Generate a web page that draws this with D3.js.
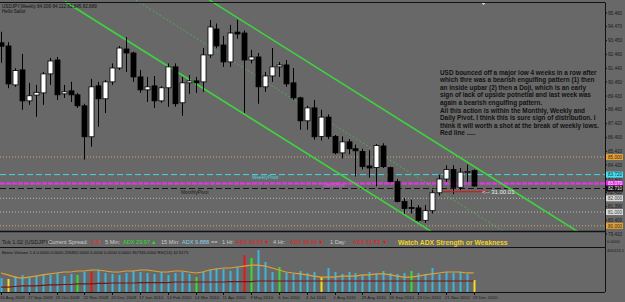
<!DOCTYPE html>
<html>
<head>
<meta charset="utf-8">
<script src="https://cdn.jsdelivr.net/npm/d3@7"></script>
<style>
body { margin: 0; background: #686868; }
svg { display: block; font-family: "Liberation Sans", Arial, sans-serif; }
</style>
</head>
<body>
<div id="chart"></div>
<script>
// weekly USDJPY candles, 30 Aug 2009 .. 19 Dec 2010
var opens  = [93.30,93.07,90.24,91.33,89.08,89.50,89.66,91.04,92.05,89.59,89.81,89.52,88.72,86.47,90.17,89.23,90.46,91.47,92.85,92.56,90.82,89.88,90.17,89.08,90.03,91.55,88.94,90.39,90.53,90.46,92.42,94.30,93.14,91.91,94.08,94.01,92.05,92.27,90.10,90.89,91.55,91.69,90.39,89.30,87.63,88.57,86.50,87.90,86.50,85.30,86.10,85.60,85.40,84.35,84.23,85.80,84.23,83.21,81.77,81.33,81.30,80.40,81.10,82.40,83.40,84.10,82.80,83.90,84.009];
var highs  = [94.10,93.35,91.45,92.49,90.39,90.24,91.18,92.20,92.27,90.24,90.46,89.66,88.87,90.68,90.46,90.60,91.80,93.07,93.72,92.65,91.33,90.82,90.89,90.15,91.80,91.80,90.82,90.96,90.82,92.92,94.95,94.70,93.80,94.60,94.98,94.20,92.78,92.56,91.18,92.92,91.90,92.05,91.47,89.38,88.72,89.15,88.43,88.10,86.60,86.50,86.30,85.90,85.60,85.50,85.94,86.00,84.30,83.40,82.00,81.90,81.50,81.50,82.60,83.70,84.40,84.40,84.20,84.45,84.112];
var lows   = [91.85,90.00,90.10,88.43,88.79,87.92,88.79,90.24,89.15,89.30,89.00,88.57,84.81,85.75,87.20,88.20,90.24,91.33,91.18,90.46,89.66,89.00,88.57,88.94,88.65,88.65,88.00,89.59,89.66,89.74,92.20,92.90,91.55,91.55,93.60,88.21,91.80,88.87,89.74,90.46,90.82,90.10,89.15,86.98,86.98,86.26,86.20,86.30,85.20,84.90,85.20,83.58,84.10,83.50,82.87,84.20,83.16,81.70,80.87,80.90,80.30,80.20,80.90,82.20,83.20,82.30,82.60,83.20,82.845];
var closes = [93.05,90.31,91.28,89.08,89.45,89.70,91.04,91.98,89.52,89.74,89.52,88.72,86.47,90.10,89.23,90.46,91.47,92.92,92.56,90.82,89.88,90.10,89.08,90.03,91.55,88.87,90.39,90.53,90.39,92.42,94.45,93.07,91.91,94.01,93.94,92.05,92.27,90.10,90.89,91.55,91.69,90.31,89.30,87.63,88.57,86.47,87.90,86.50,85.30,86.10,85.60,85.45,84.30,84.20,85.84,84.30,83.21,81.77,81.26,81.28,80.40,81.10,82.40,83.40,84.10,82.80,83.90,83.95,82.889];

// better volume (thousands), its fast and slow averages
var volumes = [127,118,145,155,136,145,164,155,173,145,164,155,182,182,200,173,164,155,173,191,182,173,164,182,155,173,182,164,136,182,200,218,209,191,227,336,309,382,273,182,227,173,164,191,173,182,136,218,182,164,182,173,155,182,164,191,173,164,173,191,173,164,218,164,182,173,182,164,109];
var volFast = [173,155,136,127,136,145,155,164,173,182,182,191,191,200,200,191,182,182,191,191,200,200,191,182,182,191,191,182,173,182,200,209,218,218,227,236,245,245,236,218,200,182,173,164,155,145,136,136,136,145,145,145,155,155,164,164,155,145,136,136,145,155,164,173,182,182,182,173,173];
var volSlow = [45,45,50,55,55,55,60,64,64,68,68,73,73,73,78,78,82,82,82,82,86,86,86,86,86,91,91,91,91,91,91,91,91,95,95,95,95,100,100,100,100,100,100,100,100,100,100,100,100,100,100,100,100,100,100,100,100,100,100,100,100,100,100,100,100,100,100,100,100];
var redBars = [13, 35];
var greenBars = [11, 28, 36, 40, 59];
var yellowBars = [1, 46, 68];

var dateLabels = ["30 Aug 2009","27 Sep 2009","25 Oct 2009","22 Nov 2009","20 Dec 2009","17 Jan 2010","14 Feb 2010","14 Mar 2010","11 Apr 2010","9 May 2010","6 Jun 2010","4 Jul 2010","1 Aug 2010","29 Aug 2010","26 Sep 2010","24 Oct 2010","21 Nov 2010","19 Dec 2010"];
var priceLabels = ["95.460","94.470","93.450","92.460","91.440","90.450","89.430","88.460","87.420","86.400","85.410","84.420","83.400","82.410","81.390","80.400","79.410"];

// levels and channel (bar index, price)
var roundLevels = [85.0, 80.0];
var minorLevels = [82.0, 81.0];
var weeklyPivot = 83.72, dailyPivot = 83.07, monthlyPivot = 82.71;
var weeklyLows = [[63.6, 82.49], [70.1, 82.49]];
var channelLower = [[9.2, 96.3], [62.5, 79.4]];
var channelUpper = [[30.0, 96.4], [83.5, 79.42]];
var channelMid = [[19.4, 96.4], [72.9, 79.4]];

var note = [
  "USD bounced off a major low 4 weeks in a row after",
  "which thre was a bearish engulfing pattern (1) then",
  "an inside upbar (2) then a Doji, which is an early",
  "sign of lack of upside potnetial and last week was",
  "again a bearish engulfing pattern.",
  "All this action is within the Monthly, Weekly and",
  "Daily Pivot. I think this is sure sign of distribution. I",
  "think it will worth a shot at the break of weekly lows.",
  "Red line ....."
];

var width = 625, height = 302;
var panelRight = 605, mainBottom = 232, infoBottom = 248, volBottom = 292;

var x = d3.scaleLinear().domain([0, 68]).range([1, 473.6]);
var y = d3.scaleLinear().domain([79.55, 96.41]).range([mainBottom, 0]);
var v = d3.scaleLinear().domain([0, 400]).range([volBottom, infoBottom]);

var svg = d3.select("#chart").append("svg")
    .attr("width", width)
    .attr("height", height);

svg.append("rect").attr("width", width).attr("height", height).attr("fill", "#686868");

svg.append("clipPath").attr("id", "mainClip")
    .append("rect").attr("x", 0).attr("y", 0).attr("width", panelRight).attr("height", mainBottom);
svg.append("clipPath").attr("id", "volClip")
    .append("rect").attr("x", 0).attr("y", infoBottom).attr("width", panelRight).attr("height", volBottom - infoBottom);

var main = svg.append("g").attr("clip-path", "url(#mainClip)");

// horizontal levels
function hline(p, color, w, dash) {
    main.append("line")
        .attr("x1", 0).attr("x2", panelRight)
        .attr("y1", y(p)).attr("y2", y(p))
        .attr("stroke", color).attr("stroke-width", w)
        .attr("stroke-dasharray", dash);
}
roundLevels.forEach(function(p) { hline(p, "#d5a468", 1, "1,2"); });
minorLevels.forEach(function(p) { hline(p, "#b8b8b8", 1, "1,2"); });
hline(weeklyPivot, "#46d8e6", 1, "6,3");
hline(dailyPivot, "#d83cd8", 2.5, "5,1");
hline(monthlyPivot, "#151515", 1, "6,3");

main.append("text").attr("x", 252).attr("y", y(weeklyPivot) + 4.5)
    .attr("font-size", 4.8).attr("fill", "#4fd6e2").text("WeeklyPivot");
main.append("text").attr("x", 323).attr("y", y(dailyPivot) + 3.5)
    .attr("font-size", 4.8).attr("fill", "#e050e0").text("DailyPivot");
main.append("text").attr("x", 181).attr("y", y(monthlyPivot) + 5)
    .attr("font-size", 4.8).attr("fill", "#1a1a1a").text("MonthlyPivot");

// channel
var line = d3.line().x(function(d) { return x(d[0]); }).y(function(d) { return y(d[1]); });
[channelLower, channelUpper].forEach(function(c) {
    main.append("path").attr("d", line(c)).attr("fill", "none")
        .attr("stroke", "#3ed43e").attr("stroke-width", 1.6);
});
main.append("path").attr("d", line(channelMid)).attr("fill", "none")
    .attr("stroke", "#52b852").attr("stroke-width", 0.8).attr("stroke-dasharray", "2,2");

// candles
var idx = d3.range(opens.length);
var bw = 5;
main.selectAll(".wick").data(idx).enter().append("line")
    .attr("x1", function(i) { return Math.round(x(i)) + 0.5; })
    .attr("x2", function(i) { return Math.round(x(i)) + 0.5; })
    .attr("y1", function(i) { return y(highs[i]); })
    .attr("y2", function(i) { return y(lows[i]); })
    .attr("stroke", "#000").attr("stroke-width", 1);
main.selectAll(".body").data(idx).enter().append("rect")
    .attr("x", function(i) { return Math.round(x(i)) + 0.5 - bw / 2; })
    .attr("y", function(i) { return y(Math.max(opens[i], closes[i])); })
    .attr("width", bw)
    .attr("height", function(i) { return Math.max(1, Math.abs(y(opens[i]) - y(closes[i]))); })
    .attr("fill", function(i) { return closes[i] >= opens[i] ? "#fff" : "#000"; })
    .attr("stroke", "#000").attr("stroke-width", 0.8);

// red weekly low line + timer
main.append("path").attr("d", line(weeklyLows)).attr("stroke", "#d01c1c").attr("stroke-width", 1.3);
main.append("text").attr("x", 482).attr("y", y(weeklyLows[0][1]) + 2)
    .attr("font-size", 6).attr("fill", "#f0f0f0").text("<-- 31.00.01");

// note
main.append("g").selectAll("text").data(note).enter().append("text")
    .attr("x", 440)
    .attr("y", function(d, i) { return 74.5 + i * 7.6; })
    .attr("font-size", 6.4).attr("font-weight", "bold").attr("fill", "#111")
    .text(function(d) { return d; });

// title
svg.append("text").attr("x", 2).attr("y", 7.5).attr("font-size", 4.6).attr("fill", "#111")
    .text("USDJPY,Weekly  84.009 84.112 82.845 82.889");
svg.append("text").attr("x", 2).attr("y", 13).attr("font-size", 4.6).attr("fill", "#111")
    .text("Hello Sailor");

// right price axis
var axisG = svg.append("g");
priceLabels.forEach(function(t) {
    var py = y(+t);
    axisG.append("line").attr("x1", panelRight).attr("x2", panelRight + 2)
        .attr("y1", py).attr("y2", py).attr("stroke", "#111");
    axisG.append("text").attr("x", panelRight + 3).attr("y", py + 1.6)
        .attr("font-size", 4.6).attr("fill", "#1a1a1a").text(t);
});
function priceBox(p, fill, ink) {
    axisG.append("rect").attr("x", panelRight + 1).attr("y", y(p) - 3)
        .attr("width", 17).attr("height", 6).attr("fill", fill);
    axisG.append("text").attr("x", panelRight + 3).attr("y", y(p) + 1.7)
        .attr("font-size", 4.6).attr("fill", ink).text(p.toFixed(3));
}
roundLevels.forEach(function(p) { priceBox(p, "#e4a23c", "#3a2a00"); });
minorLevels.forEach(function(p) { priceBox(p, "#d8d8d8", "#444"); });
priceBox(weeklyPivot, "#46e0ee", "#0a3a40");
priceBox(dailyPivot, "#e02ce0", "#fff");
priceBox(monthlyPivot, "#101010", "#eee");

// shift marker
svg.append("path").attr("d", "M481,2 L486,2 L483.5,5 Z").attr("fill", "#e8e8e8");

// info bar
var info = [
  ["Tok 1.02 (USDJPY)", 2, "#1a1a1a"],
  ["Current Spread:", 48, "#c8c8c8"], ["2.8", 92, "#ff2a2a"],
  ["5 Min:", 105, "#c8c8c8"], ["ADX 29.97", 123, "#22e022"], ["\u25B2", 151, "#22e022"],
  ["15 Min:", 161, "#c8c8c8"], ["ADX 9.888", 182, "#8ccfea"], ["==", 211, "#c8c8c8"],
  ["1 Hr:", 222, "#c8c8c8"], ["ADX 30.03", 236, "#e21c1c"], ["\u25BC", 264, "#e21c1c"],
  ["4 Hr:", 273, "#c8c8c8"], ["ADX 38.00", 290, "#e21c1c"], ["\u25BC", 318, "#e21c1c"],
  ["1 Day:", 330, "#c8c8c8"], ["ADX 31.83", 353, "#e21c1c"], ["\u25BC", 382, "#e21c1c"]
];
info.forEach(function(d) {
    svg.append("text").attr("x", d[1]).attr("y", 244).attr("font-size", 5.6)
        .attr("fill", d[2]).text(d[0]);
});
svg.append("text").attr("x", 398).attr("y", 244.5).attr("font-size", 6.8).attr("font-weight", "bold")
    .attr("fill", "#f0d21e").text("Watch ADX Strength or Weakness");

svg.append("text").attr("x", 2).attr("y", 254).attr("font-size", 4.2).attr("fill", "#111")
    .text("Better Volume 1.4 0.0000 0.0000 255852.0000 0.0000 0.0000 0.0000 357334.0000  RSI(14) 42.6175");

// volume panel
var volG = svg.append("g").attr("clip-path", "url(#volClip)");
function barColor(i) {
    if (redBars.indexOf(i) !== -1) return "#e01818";
    if (greenBars.indexOf(i) !== -1) return "#30e030";
    if (yellowBars.indexOf(i) !== -1) return "#f0e020";
    return "#3cb6de";
}
volG.selectAll(".vol").data(idx).enter().append("rect")
    .attr("x", function(i) { return Math.round(x(i)) - 0.5; })
    .attr("y", function(i) { return v(volumes[i]); })
    .attr("width", 2)
    .attr("height", function(i) { return volBottom - v(volumes[i]); })
    .attr("fill", barColor);
var vline = d3.line().x(function(i) { return x(i); });
volG.append("path").attr("d", vline.y(function(i) { return v(volSlow[i]); })(idx))
    .attr("fill", "none").attr("stroke", "#7a1414").attr("stroke-width", 1.2);
volG.append("path").attr("d", vline.y(function(i) { return v(volFast[i]); })(idx))
    .attr("fill", "none").attr("stroke", "#e2a032").attr("stroke-width", 1.2);

svg.append("text").attr("x", panelRight + 2).attr("y", 251.5).attr("font-size", 4.2)
    .attr("fill", "#1a1a1a").text("400113.1");
svg.append("text").attr("x", panelRight + 2).attr("y", 243).attr("font-size", 4.2)
    .attr("fill", "#1a1a1a").text("0.0000");

// frames
var frame = svg.append("g").attr("stroke", "#111").attr("fill", "none");
frame.append("line").attr("x1", 0).attr("x2", panelRight).attr("y1", 2.5).attr("y2", 2.5);
frame.append("line").attr("x1", panelRight + 0.5).attr("x2", panelRight + 0.5).attr("y1", 2.5).attr("y2", volBottom);
frame.append("line").attr("x1", 0).attr("x2", panelRight).attr("y1", mainBottom - 0.5).attr("y2", mainBottom - 0.5).attr("stroke-width", 1.5);
frame.append("line").attr("x1", 0).attr("x2", panelRight).attr("y1", infoBottom - 0.5).attr("y2", infoBottom - 0.5);
frame.append("line").attr("x1", 0).attr("x2", panelRight).attr("y1", volBottom + 0.5).attr("y2", volBottom + 0.5);

// date axis
dateLabels.forEach(function(t, k) {
    var tx = x(k * 4);
    svg.append("line").attr("x1", Math.round(tx) + 0.5).attr("x2", Math.round(tx) + 0.5)
        .attr("y1", volBottom).attr("y2", volBottom + 3).attr("stroke", "#111");
    svg.append("text").attr("x", tx - 1).attr("y", 299).attr("font-size", 4.4)
        .attr("fill", "#1a1a1a").text(t);
});
</script>
</body>
</html>
